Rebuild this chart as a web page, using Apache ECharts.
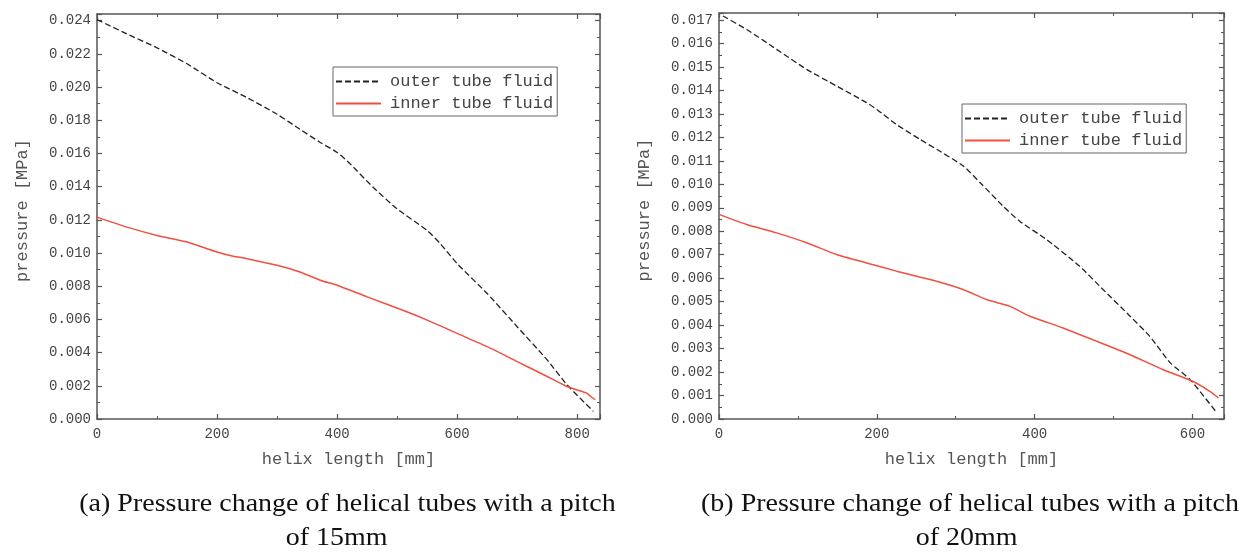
<!DOCTYPE html>
<html>
<head>
<meta charset="utf-8">
<script src="https://cdn.jsdelivr.net/npm/echarts@6/dist/echarts.min.js"></script>
<style>
  html, body { margin: 0; padding: 0; background: #fff; }
  #main { width: 1251px; height: 552px; }
</style>
</head>
<body>
<div id="main"></div>
<script>
// (a) pitch 15mm
const outerA = [[0,0.02406],[50,0.0232],[100,0.02236],[150,0.0214],[200,0.02026],[250,0.01936],[300,0.01836],[338,0.01746],[372,0.01666],[400,0.01606],[422,0.01536],[460,0.01396],[500,0.01266],[550,0.01136],[572,0.01056],[600,0.00936],[650,0.00756],[700,0.00556],[750,0.00356],[783,0.00206],[827,0.00046]];
const innerA = [[0,0.01216],[50,0.01156],[100,0.01106],[150,0.01066],[200,0.01006],[227,0.0098],[250,0.00966],[300,0.00926],[338,0.00886],[372,0.00836],[400,0.00806],[450,0.00736],[516,0.00646],[550,0.00596],[600,0.00516],[650,0.00436],[700,0.00346],[750,0.00256],[783,0.00196],[816,0.00156],[821,0.0014],[830,0.00116]];
// (b) pitch 20mm
const outerB = [[5,0.01717],[35,0.0166],[73,0.01575],[111,0.0149],[149,0.01419],[187,0.01348],[200,0.01319],[225,0.01255],[255,0.01191],[280,0.01141],[310,0.01077],[331,0.01007],[360,0.00907],[381,0.00843],[415,0.00765],[457,0.00651],[487,0.00551],[521,0.00438],[546,0.00352],[572,0.00239],[597,0.00168],[631,0.00026]];
const innerB = [[1,0.00871],[35,0.00829],[73,0.00793],[111,0.00751],[149,0.00701],[187,0.00665],[225,0.0063],[270,0.00592],[310,0.00551],[339,0.00509],[369,0.0048],[394,0.00438],[436,0.00388],[479,0.00331],[521,0.00274],[563,0.0021],[601,0.0016],[622,0.00118],[633,0.0009]];

const seriesNames = ['outer tube fluid', 'inner tube fluid'];
const xName = 'helix length [mm]';
const yName = 'pressure [MPa]';
const captionsA = ['(a) Pressure change of helical tubes with a pitch', 'of 15mm'];
const captionsB = ['(b) Pressure change of helical tubes with a pitch', 'of 20mm'];

const mono = '"Liberation Mono", "DejaVu Sans Mono", monospace';
const frame = { show: true, onZero: false, lineStyle: { color: '#555', width: 1.5 } };
const tick = { show: true, inside: true, length: 5, lineStyle: { color: '#555', width: 1.2 } };
const minor = { show: true, splitNumber: 2, length: 3, lineStyle: { color: '#555', width: 1 } };

function xAxes(grid, max) {
  return [{
    gridIndex: grid, type: 'value', min: 0, max: max, interval: 200, position: 'bottom',
    axisLine: frame, axisTick: tick, minorTick: minor, splitLine: { show: false },
    axisLabel: { color: '#444', fontFamily: mono, fontSize: 14, margin: 8, showMaxLabel: false },
    name: xName, nameLocation: 'middle', nameGap: 32,
    nameTextStyle: { color: '#555', fontFamily: mono, fontSize: 17 }
  }, {
    gridIndex: grid, type: 'value', min: 0, max: max, interval: 200, position: 'top',
    axisLine: frame, axisTick: tick, minorTick: minor, splitLine: { show: false },
    axisLabel: { show: false }
  }];
}

function yAxes(grid, max, step) {
  return [{
    gridIndex: grid, type: 'value', min: 0, max: max, interval: step, position: 'left',
    axisLine: frame, axisTick: tick, minorTick: minor, splitLine: { show: false },
    axisLabel: { color: '#444', fontFamily: mono, fontSize: 14, margin: 6, showMaxLabel: false,
      formatter: v => v.toFixed(3) },
    name: yName, nameLocation: 'middle', nameGap: 66,
    nameTextStyle: { color: '#555', fontFamily: mono, fontSize: 17, padding: [0, 0, 0, 12] }
  }, {
    gridIndex: grid, type: 'value', min: 0, max: max, interval: step, position: 'right',
    axisLine: frame, axisTick: tick, minorTick: minor, splitLine: { show: false },
    axisLabel: { show: false }
  }];
}

function lines(xi, yi, outer, inner) {
  return [{
    name: seriesNames[0], type: 'line', xAxisIndex: xi, yAxisIndex: yi, data: outer,
    symbol: 'none', smooth: 0.2, itemStyle: { color: '#222' },
    lineStyle: { color: '#222', width: 1.3, type: [6, 3] }
  }, {
    name: seriesNames[1], type: 'line', xAxisIndex: xi, yAxisIndex: yi, data: inner,
    symbol: 'none', smooth: 0.2, itemStyle: { color: '#f0503f' },
    lineStyle: { color: '#f0503f', width: 1.5 }
  }];
}

function legendAt(left, top) {
  return {
    data: seriesNames, orient: 'vertical', left: left, top: top,
    itemWidth: 45, itemHeight: 12, itemGap: 5,
    padding: [6, 4, 4, 2],
    borderColor: '#666', borderWidth: 1,
    itemStyle: { color: 'rgba(0,0,0,0)', borderWidth: 0, opacity: 0 },
    textStyle: { color: '#444', fontFamily: mono, fontSize: 17, lineHeight: 17, padding: [0, 0, 0, 4] }
  };
}

function caption(text, x, y) {
  return {
    type: 'text', x: x, y: y, scaleY: 0.87,
    style: { text: text, fill: '#111', font: '28px "Liberation Serif", "Times New Roman", serif',
      align: 'center', verticalAlign: 'middle' }
  };
}

const chart = echarts.init(document.getElementById('main'), null, { renderer: 'canvas' });
chart.setOption({
  backgroundColor: '#fff',
  animation: false,
  grid: [
    { left: 97, top: 14, width: 503, height: 405 },
    { left: 719, top: 13, width: 505, height: 406 }
  ],
  xAxis: [...xAxes(0, 838), ...xAxes(1, 640)],
  yAxis: [...yAxes(0, 0.0244, 0.002), ...yAxes(1, 0.0173, 0.001)],
  legend: [legendAt(333, 67), legendAt(962, 104)],
  series: [...lines(0, 0, outerA, innerA), ...lines(2, 2, outerB, innerB)],
  graphic: [
    caption(captionsA[0], 347.5, 505),
    caption(captionsA[1], 336.7, 539),
    caption(captionsB[0], 970, 505),
    caption(captionsB[1], 966.7, 539)
  ]
});
</script>
</body>
</html>
